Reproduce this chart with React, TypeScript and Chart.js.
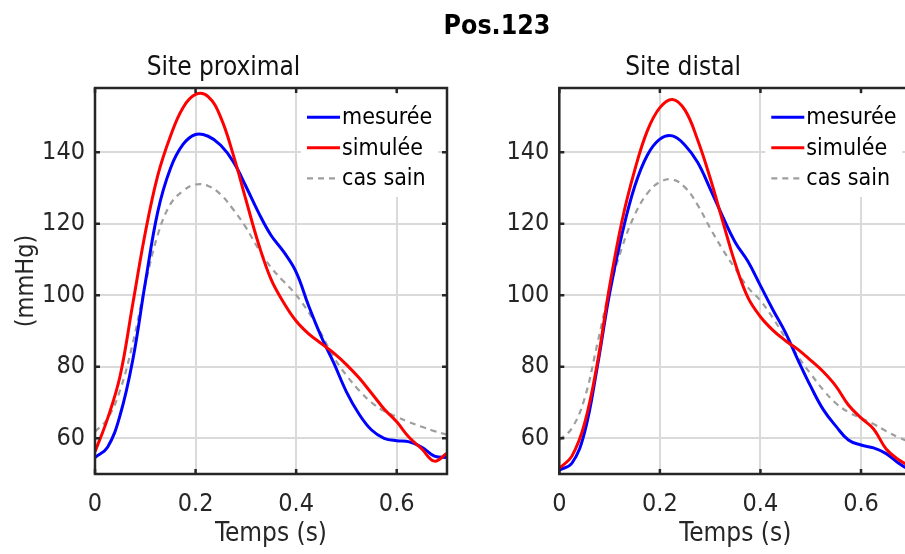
import React, { useEffect, useRef } from "react";
import { Chart, registerables } from "chart.js";

Chart.register(...registerables);

const FONT = "'DejaVu Sans Condensed', 'DejaVu Sans', sans-serif";

const timeValues = [
  0, 0.025, 0.05, 0.075, 0.1, 0.125, 0.15, 0.175, 0.2, 0.225, 0.25, 0.275, 0.3, 0.325, 0.35,
  0.375, 0.4, 0.425, 0.45, 0.475, 0.5, 0.525, 0.55, 0.575, 0.6, 0.625, 0.65, 0.675, 0.7,
];

const proxMesuree = [
  54.6, 57.5, 66.5, 81.8, 103.5, 123.5, 135.5, 142.2, 145.0, 144.5, 142.0, 137.4, 130.5, 123.2, 116.8,
  112.2, 106.5, 97.0, 88.4, 81.0, 73.0, 66.8, 62.3, 60.0, 59.3, 59.0, 57.5, 55.0, 54.6,
];
const proxSimulee = [
  56.2, 65.5, 77.5, 97.5, 117.5, 133.6, 144.5, 152.5, 156.2, 155.6, 149.8, 139.3, 126.8, 114.5, 104.5,
  98.0, 92.8, 89.2, 86.5, 83.8, 80.6, 76.9, 72.6, 68.2, 64.6, 60.2, 57.0, 53.6, 55.8,
];
const proxSain = [
  61.8, 65.5, 73.5, 86.5, 103.0, 117.0, 125.5, 129.2, 131.0, 130.6, 128.2, 124.0, 119.0, 113.0, 107.8,
  103.9, 100.1, 95.2, 89.2, 82.6, 77.6, 73.4, 70.0, 67.6, 66.0, 64.5, 63.2, 62.0, 61.0,
];

const distMesuree = [
  51.1, 53.0, 61.5, 79.5, 100.5, 117.3, 130.5, 139.2, 143.7, 144.6, 142.0, 137.2, 129.8, 122.0, 114.8,
  109.5, 102.7, 95.9, 89.5, 81.8, 74.5, 68.0, 63.4, 59.5, 58.1, 57.3, 55.7, 53.0, 50.8,
];
const distSimulee = [
  51.6, 55.0, 64.0, 80.5, 102.5, 121.0, 135.0, 146.0, 152.5, 154.8, 151.8, 143.5, 132.8, 120.7, 108.8,
  99.4, 94.0, 90.2, 87.3, 84.8, 81.8, 78.6, 74.6, 69.3, 65.7, 62.6, 57.0, 54.0, 52.0,
];
const distSain = [
  59.5, 62.8, 71.0, 86.0, 101.5, 113.5, 122.5, 128.5, 131.7, 132.4, 130.2, 125.3, 118.8, 112.8, 107.4,
  102.2, 98.5, 93.6, 88.0, 82.8, 78.0, 73.5, 69.8, 67.3, 65.6, 64.0, 62.0, 60.2, 58.8,
];

const xTickValues = [0, 0.2, 0.4, 0.6];
const yTickValues = [60, 80, 100, 120, 140];
const seriesLabels = ["mesurée", "simulée", "cas sain"];
const mainTitle = "Pos.123";
const subTitles = ["Site proximal", "Site distal"];
const xAxisLabel = "Temps (s)";
const yAxisLabel = "(mmHg)";

const X_MIN = 0;
const X_MAX = 0.7;
const Y_MIN = 50;
const Y_MAX = 158;

const boxPlugin = {
  id: "matlabBox",
  afterDraw(chart: any) {
    const { ctx, chartArea: a, scales } = chart;
    ctx.save();
    // legend (white background, no border)
    const lx = a.left + 206;
    const ly = a.top + 6;
    ctx.fillStyle = "#ffffff";
    ctx.fillRect(lx, ly, a.right - 9 - lx, 103);
    chart.data.datasets.forEach((ds: any, i: number) => {
      const cy = a.top + 29.3 + i * 30.5;
      ctx.strokeStyle = ds.borderColor;
      ctx.lineWidth = ds.borderWidth;
      ctx.setLineDash(ds.borderDash || []);
      ctx.beginPath();
      ctx.moveTo(a.left + 212, cy);
      ctx.lineTo(a.left + 245, cy);
      ctx.stroke();
      ctx.setLineDash([]);
      ctx.fillStyle = "#000000";
      ctx.font = `23px ${FONT}`;
      ctx.textBaseline = "middle";
      ctx.textAlign = "left";
      ctx.fillText(ds.label, a.left + 247, cy + 1);
    });
    // box
    ctx.strokeStyle = "#262626";
    ctx.lineWidth = 2.5;
    ctx.strokeRect(a.left, a.top, a.right - a.left, a.bottom - a.top);
    // inward ticks on all sides
    const tl = 5;
    ctx.beginPath();
    scales.x.ticks.forEach((t: any) => {
      const px = scales.x.getPixelForValue(t.value);
      ctx.moveTo(px, a.bottom);
      ctx.lineTo(px, a.bottom - tl);
      ctx.moveTo(px, a.top);
      ctx.lineTo(px, a.top + tl);
    });
    scales.y.ticks.forEach((t: any) => {
      const py = scales.y.getPixelForValue(t.value);
      ctx.moveTo(a.left, py);
      ctx.lineTo(a.left + tl, py);
      ctx.moveTo(a.right, py);
      ctx.lineTo(a.right - tl, py);
    });
    ctx.stroke();
    ctx.restore();
  },
};

function makeConfig(
  title: string,
  series: number[][],
  showYLabel: boolean,
  yWidth: number,
  padRight: number
): any {
  const colors = ["#0000ff", "#ff0000", "#9e9e9e"];
  const widths = [3, 3, 2.2];
  const dashes = [[], [], [6, 5]];
  return {
    type: "line",
    data: {
      datasets: series.map((s, k) => ({
        label: seriesLabels[k],
        data: timeValues.map((t, i) => ({ x: t, y: s[i] })),
        borderColor: colors[k],
        borderWidth: widths[k],
        borderDash: dashes[k],
        pointRadius: 0,
        fill: false,
        tension: 0.4,
        order: k === 2 ? 3 : k === 0 ? 2 : 1,
      })),
    },
    options: {
      responsive: false,
      animation: false,
      devicePixelRatio: 1,
      events: [],
      layout: { padding: { left: 0, right: padRight, top: 0, bottom: 0 } },
      plugins: {
        legend: { display: false },
        tooltip: { enabled: false },
        title: {
          display: true,
          text: title,
          color: "#111111",
          font: { size: 26, weight: "normal", family: FONT, lineHeight: 1.2 },
          padding: { top: 52.4, bottom: 4.4 },
        },
      },
      scales: {
        x: {
          type: "linear",
          min: X_MIN,
          max: X_MAX,
          afterBuildTicks: (s: any) => {
            s.ticks = xTickValues.map((v) => ({ value: v }));
          },
          afterFit: (s: any) => {
            s.height = 80;
          },
          grid: { color: "#dadada", lineWidth: 2, drawTicks: false },
          border: { display: false },
          ticks: {
            color: "#262626",
            font: { size: 25, family: FONT },
            padding: 15,
            maxRotation: 0,
            autoSkip: false,
            callback: (v: any) => String(v),
          },
          title: {
            display: true,
            text: xAxisLabel,
            color: "#262626",
            font: { size: 26, family: FONT, lineHeight: 1.2 },
            padding: { top: 0, bottom: 3.9 },
          },
        },
        y: {
          type: "linear",
          min: Y_MIN,
          max: Y_MAX,
          afterBuildTicks: (s: any) => {
            s.ticks = yTickValues.map((v) => ({ value: v }));
          },
          afterFit: (s: any) => {
            s.width = yWidth;
          },
          grid: { color: "#dadada", lineWidth: 2, drawTicks: false },
          border: { display: false },
          ticks: {
            color: "#262626",
            font: { size: 25, family: FONT },
            padding: 10,
            autoSkip: false,
            callback: (v: any) => String(v),
          },
          title: {
            display: showYLabel,
            text: yAxisLabel,
            color: "#262626",
            font: { size: 25, family: FONT, lineHeight: 1.2 },
            padding: { top: 11, bottom: 0 },
          },
        },
      },
    },
    plugins: [boxPlugin],
  };
}

export default function App() {
  const leftRef = useRef<HTMLCanvasElement | null>(null);
  const rightRef = useRef<HTMLCanvasElement | null>(null);

  useEffect(() => {
    Chart.defaults.font.family = FONT;
    const c1 = new Chart(
      leftRef.current as HTMLCanvasElement,
      makeConfig(subTitles[0], [proxMesuree, proxSimulee, proxSain], true, 95, 8)
    );
    const c2 = new Chart(
      rightRef.current as HTMLCanvasElement,
      makeConfig(subTitles[1], [distMesuree, distSimulee, distSain], false, 104.3, 8.7)
    );
    return () => {
      c1.destroy();
      c2.destroy();
    };
  }, []);

  return (
    <div
      style={{
        position: "fixed",
        left: 0,
        top: 0,
        width: 905,
        height: 554,
        overflow: "hidden",
        background: "#ffffff",
      }}
    >
      <canvas ref={leftRef} width={455} height={554} style={{ position: "absolute", left: 0, top: 0 }} />
      <canvas ref={rightRef} width={465} height={554} style={{ position: "absolute", left: 455, top: 0 }} />
      <div
        style={{
          position: "absolute",
          left: 0,
          width: 994,
          top: 12,
          textAlign: "center",
          font: `bold 26.5px ${FONT}`,
          lineHeight: "26px",
          color: "#000000",
          whiteSpace: "nowrap",
        }}
      >
        {mainTitle}
      </div>
    </div>
  );
}
